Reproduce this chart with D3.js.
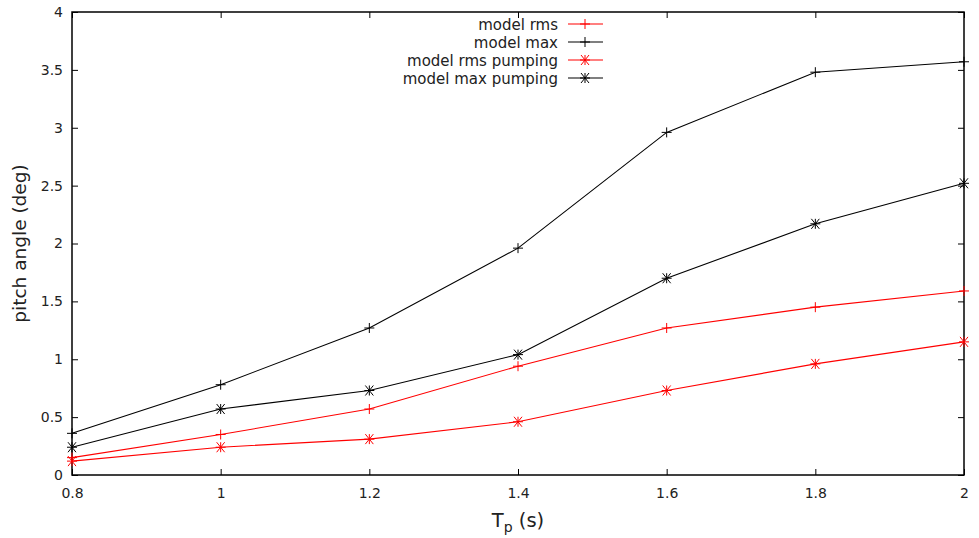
<!DOCTYPE html>
<html><head><meta charset="utf-8">
<script src="https://cdn.jsdelivr.net/npm/d3@7"></script>
<style>body{margin:0;background:#fff}svg{display:block}text{font-family:"DejaVu Sans",Verdana,sans-serif;fill:#222}</style>
</head><body>
<svg id="c" width="979" height="538"></svg>
<script>
const tp = [0.8, 1.0, 1.2, 1.4, 1.6, 1.8, 2.0];
const modelRms = [0.15, 0.35, 0.57, 0.94, 1.27, 1.45, 1.59];
const modelMax = [0.36, 0.78, 1.27, 1.96, 2.96, 3.48, 3.57];
const modelRmsPumping = [0.12, 0.24, 0.31, 0.46, 0.73, 0.96, 1.15];
const modelMaxPumping = [0.24, 0.57, 0.73, 1.04, 1.70, 2.17, 2.52];
const xTicks = [0.8, 1, 1.2, 1.4, 1.6, 1.8, 2];
const yTicks = [0, 0.5, 1, 1.5, 2, 2.5, 3, 3.5, 4];

const series = [
  {name: "model rms", vals: modelRms, color: "#ff0000", marker: "plus"},
  {name: "model max", vals: modelMax, color: "#000000", marker: "plus"},
  {name: "model rms pumping", vals: modelRmsPumping, color: "#ff0000", marker: "star"},
  {name: "model max pumping", vals: modelMaxPumping, color: "#000000", marker: "star"}
];

const L = 72, R = 964, T = 12, B = 475;
const svg = d3.select("#c");
const x = d3.scaleLinear().domain([0.8, 2]).range([L, R]);
const y = d3.scaleLinear().domain([0, 4]).range([B, T]);

// axes (gnuplot style: inward ticks, mirrored)
const tl = 6;
svg.append("g").attr("transform", `translate(0,${B})`)
  .call(d3.axisBottom(x).tickValues(xTicks).tickSize(-tl).tickPadding(13).tickFormat(d3.format("")))
  .call(g => g.select(".domain").remove())
  .call(g => g.selectAll("text").attr("font-size", 14));
svg.append("g").attr("transform", `translate(0,${T})`)
  .call(d3.axisTop(x).tickValues(xTicks).tickSize(-tl).tickFormat(""))
  .call(g => g.select(".domain").remove());
svg.append("g").attr("transform", `translate(${L},0)`)
  .call(d3.axisLeft(y).tickValues(yTicks).tickSize(-tl).tickPadding(9).tickFormat(d3.format("")))
  .call(g => g.select(".domain").remove())
  .call(g => g.selectAll("text").attr("font-size", 14));
svg.append("g").attr("transform", `translate(${R},0)`)
  .call(d3.axisRight(y).tickValues(yTicks).tickSize(-tl).tickFormat(""))
  .call(g => g.select(".domain").remove());
svg.selectAll(".tick line").attr("stroke", "#000");

svg.append("rect").attr("x", L).attr("y", T).attr("width", R - L).attr("height", B - T)
  .attr("fill", "none").attr("stroke", "#000").attr("stroke-width", 1.5);

// axis labels
svg.append("text").attr("transform", `translate(26,${(T + B) / 2}) rotate(-90)`)
  .attr("text-anchor", "middle").attr("font-size", 18.5).text("pitch angle (deg)");
const xl = svg.append("text").attr("x", (L + R) / 2).attr("y", 527).attr("text-anchor", "middle").attr("font-size", 19.5);
xl.append("tspan").text("T");
xl.append("tspan").attr("font-size", 14).attr("dy", 5).text("p");
xl.append("tspan").attr("dy", -5).text(" (s)");

function marker(g, cx, cy, type, color) {
  const s = 5;
  let d = `M${cx - s},${cy}H${cx + s}M${cx},${cy - s}V${cy + s}`;
  if (type === "star") d += `M${cx - s*0.8},${cy - s}L${cx + s*0.8},${cy + s}M${cx - s*0.8},${cy + s}L${cx + s*0.8},${cy - s}`;
  g.append("path").attr("d", d).attr("stroke", color).attr("stroke-width", 1).attr("fill", "none");
}

const line = d3.line().x(d => x(d[0])).y(d => y(d[1]));
series.forEach(s => {
  const pts = tp.map((t, i) => [t, s.vals[i]]);
  const g = svg.append("g");
  g.append("path").attr("d", line(pts)).attr("fill", "none").attr("stroke", s.color).attr("stroke-width", 1.1);
  pts.forEach(p => marker(g, x(p[0]), y(p[1]), s.marker, s.color));
});

// legend
series.forEach((s, i) => {
  const ly = 24 + i * 18;
  svg.append("text").attr("x", 558).attr("y", ly + 5.5).attr("text-anchor", "end").attr("font-size", 15).text(s.name);
  const g = svg.append("g");
  g.append("line").attr("x1", 568).attr("x2", 603).attr("y1", ly).attr("y2", ly).attr("stroke", s.color).attr("stroke-width", 1.1);
  marker(g, 585, ly, s.marker, s.color);
});
</script>
</body></html>
